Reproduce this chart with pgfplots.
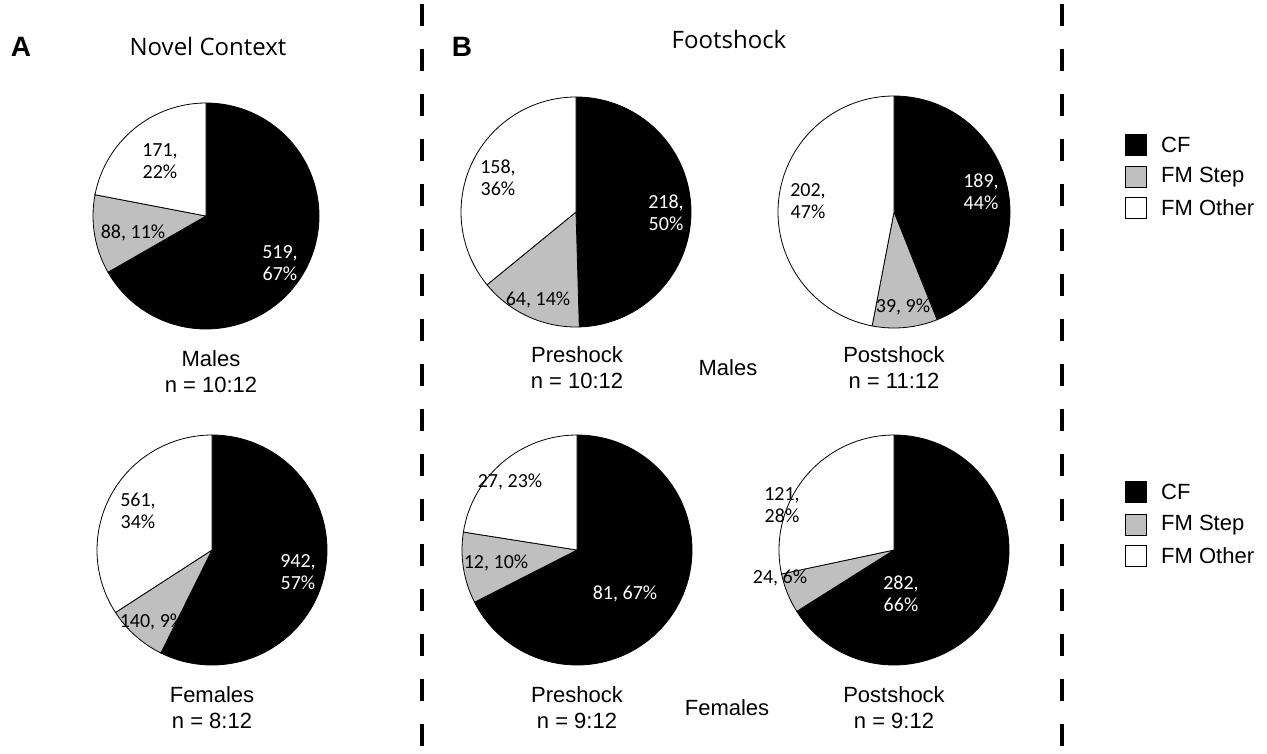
\documentclass[border=0pt]{standalone}
\usepackage{pgfplots}
\pgfplotsset{compat=1.18}
\usepackage{fontspec}
\setmainfont{Liberation Sans}
\newfontfamily\calfont{Carlito}
\newfontfamily\headfont{Open Sans}
\definecolor{stepgray}{RGB}{191,191,191}

% one pie: centre x, centre y (pixels, y downwards), radius, CF, FM Step, FM Other
\newcommand\pie[6]{%
  \pgfmathsetmacro\tot{#4+#5+#6}%
  \pgfmathsetmacro\aA{90-360*(#4/\tot)}%
  \pgfmathsetmacro\aB{\aA-360*(#5/\tot)}%
  \begin{axis}[at={(#1pt,-#2pt)}, anchor=center, x=#3pt, y=#3pt,
      xmin=-1, xmax=1, ymin=-1, ymax=1, hide axis, clip=false]
    \addplot[draw=none] coordinates {(0,0)};
    \filldraw[fill=black, draw=black, line width=0.8pt]
      (0,0) -- (0,1) arc[start angle=90, end angle=\aA, radius=#3pt] -- cycle;
    \filldraw[fill=stepgray, draw=black, line width=0.8pt]
      (0,0) -- ({cos(\aA)},{sin(\aA)}) arc[start angle=\aA, end angle=\aB, radius=#3pt] -- cycle;
    \filldraw[fill=white, draw=black, line width=0.8pt]
      (0,0) -- ({cos(\aB)},{sin(\aB)}) arc[start angle=\aB, end angle=-270, radius=#3pt] -- cycle;
  \end{axis}}

\tikzset{
  lab/.style={font=\calfont\fontsize{20}{22}\selectfont, align=center, inner sep=0pt},
  capt/.style={font=\fontsize{22}{26}\selectfont, align=center, inner sep=0pt},
  leg/.style={font=\fontsize{22}{26}\selectfont, anchor=west, inner sep=0pt},
  box/.style={draw=black, line width=1.6pt, minimum size=21pt, inner sep=0pt},
}

\begin{document}
\begin{tikzpicture}[x=1pt, y=1pt]
\useasboundingbox (0,0) rectangle (1267,-753);

% panel separators
\draw[line width=4pt, dash pattern=on 22pt off 23pt] (422,-4) -- (422,-753);
\draw[line width=4pt, dash pattern=on 22pt off 23pt] (1062,-4) -- (1062,-753);

% panel letters and titles
\node[font=\bfseries\fontsize{28}{30}\selectfont, inner sep=0pt] at (21,-47) {A};
\node[font=\bfseries\fontsize{28}{30}\selectfont, inner sep=0pt] at (462,-47) {B};
\node[font=\headfont\fontsize{24}{28}\selectfont, inner sep=0pt] at (208,-46) {Novel Context};
\node[font=\headfont\fontsize{24}{28}\selectfont, inner sep=0pt] at (729,-39) {Footshock};

% pies: CF, FM Step, FM Other
\pie{206}{216}{113}{519}{88}{171}
\pie{212}{550}{115}{942}{140}{561}
\pie{576}{212}{115}{218}{64}{158}
\pie{894}{212}{116}{189}{39}{202}
\pie{577}{550}{115}{81}{12}{27}
\pie{894}{550}{115}{282}{24}{121}

% slice labels
\node[lab] at (160,-161) {171,\\22\%};
\node[lab] at (133,-233) {88, 11\%};
\node[lab, text=white] at (280,-263) {519,\\67\%};

\node[lab] at (138,-511) {561,\\34\%};
\node[lab] at (152,-622) {140, 9\%};
\node[lab, text=white] at (298,-572) {942,\\57\%};

\node[lab] at (498,-178) {158,\\36\%};
\node[lab] at (538,-300) {64, 14\%};
\node[lab, text=white] at (666,-213) {218,\\50\%};

\node[lab] at (808,-201) {202,\\47\%};
\node[lab] at (903,-307) {39, 9\%};
\node[lab, text=white] at (981,-192) {189,\\44\%};

\node[lab] at (510,-482) {27, 23\%};
\node[lab] at (496,-563) {12, 10\%};
\node[lab, text=white] at (625,-594) {81, 67\%};

\node[lab] at (782,-505) {121,\\28\%};
\node[lab] at (780,-578) {24, 6\%};
\node[lab, text=white] at (901,-594) {282,\\66\%};

% captions
\node[capt] at (211,-372) {Males\\n = 10:12};
\node[capt] at (212,-708) {Females\\n = 8:12};
\node[capt] at (577,-368) {Preshock\\n = 10:12};
\node[capt] at (894,-368) {Postshock\\n = 11:12};
\node[capt] at (728,-368) {Males};
\node[capt] at (577,-708) {Preshock\\n = 9:12};
\node[capt] at (894,-708) {Postshock\\n = 9:12};
\node[capt] at (727,-708) {Females};

% legends
\foreach \y/\c/\t in {145/black/CF, 177/stepgray/FM Step, 208/white/FM Other,
                      492/black/CF, 525/stepgray/FM Step, 556/white/FM Other}{
  \node[box, fill=\c] at (1136,-\y) {};
  \node[leg] at (1161,-\y) {\t};
}
\end{tikzpicture}
\end{document}
